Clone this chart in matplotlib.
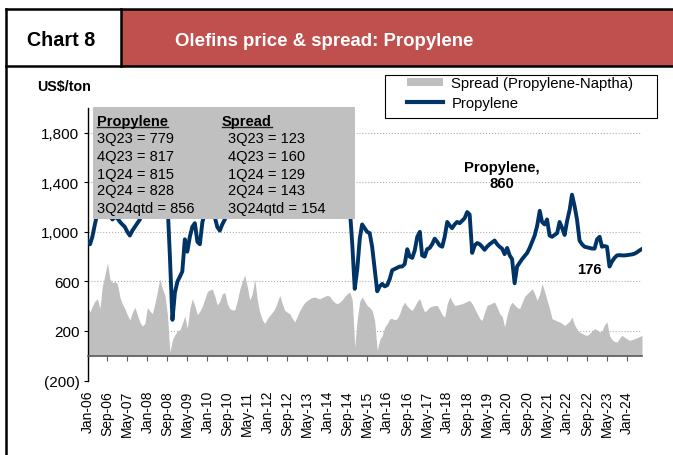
import matplotlib
matplotlib.use("Agg")
import matplotlib.pyplot as plt
import matplotlib.dates as mdates
from matplotlib.patches import Rectangle, Patch
from matplotlib.lines import Line2D
from matplotlib.ticker import FuncFormatter
from matplotlib import font_manager
import pandas as pd

# monthly values, Jan-06 .. Jul-24 (US$/ton)
propylene = [
    930, 900, 960, 1060, 1150, 1200, 1230, 1250, 1180, 1130, 1100, 1120,      # 2006
    1110, 1080, 1060, 1040, 1000, 970, 1010, 1040, 1070, 1100, 1200, 1300,    # 2007
    1400, 1450, 1500, 1560, 1620, 1680, 1700, 1600, 1250, 800, 290, 510,      # 2008
    600, 640, 680, 940, 840, 960, 1040, 1070, 920, 900, 1080, 1150,           # 2009
    1200, 1250, 1200, 1120, 1040, 1010, 1060, 1100, 1150, 1200, 1260, 1350,   # 2010
    1450, 1500, 1550, 1600, 1550, 1450, 1420, 1450, 1400, 1300, 1250, 1280,   # 2011
    1350, 1400, 1450, 1420, 1300, 1200, 1250, 1400, 1450, 1420, 1380, 1400,   # 2012
    1450, 1480, 1450, 1400, 1380, 1400, 1420, 1450, 1480, 1450, 1420, 1450,   # 2013
    1480, 1450, 1420, 1400, 1380, 1400, 1420, 1380, 1300, 1200, 900, 540,     # 2014
    700, 950, 1060, 1030, 1000, 990, 880, 700, 520, 560, 580, 560,            # 2015
    570, 620, 690, 700, 710, 720, 720, 740, 860, 800, 790, 850,               # 2016
    960, 1000, 810, 800, 860, 870, 900, 945, 920, 890, 880, 960,              # 2017
    1080, 1050, 1030, 1060, 1080, 1070, 1090, 1110, 1160, 1140, 830, 890,     # 2018
    910, 900, 880, 855, 880, 900, 915, 930, 900, 880, 864, 820,               # 2019
    870, 810, 780, 585, 720, 750, 780, 805, 830, 870, 920, 970,               # 2020
    1050, 1170, 1080, 1060, 1100, 970, 960, 975, 990, 1080, 1030, 975,        # 2021
    1090, 1180, 1300, 1210, 1100, 930, 900, 880, 875, 870, 865, 865,          # 2022
    940, 960, 880, 885, 880, 720, 760, 790, 810, 812, 810, 810,               # 2023
    812, 815, 818, 824, 835, 850, 862,                                        # 2024
]
spread = [
    396, 355, 400, 440, 460, 380, 560, 650, 750, 620, 590, 600,     # 2006
    580, 470, 420, 380, 330, 290, 350, 390, 330, 270, 240, 260,     # 2007
    390, 360, 340, 420, 520, 620, 540, 490, 330, 30, 130, 170,      # 2008
    200, 210, 260, 320, 220, 380, 460, 400, 330, 360, 400, 460,     # 2009
    520, 530, 540, 480, 410, 440, 500, 510, 420, 380, 370, 370,     # 2010
    450, 540, 600, 650, 560, 450, 500, 620, 450, 350, 290, 260,     # 2011
    300, 326, 350, 380, 430, 487, 420, 366, 350, 339, 300, 272,     # 2012
    320, 366, 400, 430, 447, 460, 470, 474, 465, 460, 470, 480,     # 2013
    487, 480, 450, 430, 420, 433, 450, 480, 500, 514, 450, 70,      # 2014
    300, 440, 474, 440, 406, 390, 366, 280, 43, 130, 164, 230,      # 2015
    260, 299, 300, 290, 299, 340, 400, 433, 400, 380, 366, 400,     # 2016
    440, 460, 400, 353, 370, 393, 400, 405, 406, 370, 330, 312,     # 2017
    420, 474, 440, 406, 410, 415, 420, 430, 440, 447, 420, 380,     # 2018
    340, 300, 285, 350, 406, 415, 425, 433, 390, 340, 320, 232,     # 2019
    330, 400, 433, 410, 390, 380, 430, 480, 500, 520, 541, 500,     # 2020
    447, 500, 582, 520, 447, 380, 299, 290, 280, 272, 260, 245,     # 2021
    260, 280, 312, 250, 215, 191, 180, 170, 164, 180, 200, 218,     # 2022
    210, 191, 200, 250, 272, 164, 130, 115, 110, 140, 164, 150,     # 2023
    135, 124, 130, 137, 145, 155, 164,                              # 2024
]
months = pd.date_range('2006-01-01', periods=len(propylene), freq='MS')

box_rows = [('3Q23', 779, 123), ('4Q23', 817, 160), ('1Q24', 815, 129),
            ('2Q24', 828, 143), ('3Q24qtd', 856, 154)]

navy = '#003366'
grey = '#BFBFBF'
red = '#C0504D'

W, H = 673, 456


def fx(x):
    return x / W


def fy(y):
    return 1 - y / H


def has_font(name):
    try:
        font_manager.findfont(font_manager.FontProperties(family=name), fallback_to_default=False)
        return True
    except ValueError:
        return False


plt.rcParams['font.family'] = 'Liberation Sans'
if has_font('Liberation Sans Narrow'):
    head_font, chart_size, title_size = 'Liberation Sans Narrow', 17, 16.3
else:
    head_font, chart_size, title_size = 'Liberation Sans', 14.2, 13.4

fig = plt.figure(figsize=(W / 100, H / 100), dpi=100)
ax = fig.add_axes([fx(87.5), fy(381.5), (642 - 87.5) / W, (381.5 - 109) / H])

ax.fill_between(months, 0, spread, color=grey, lw=0, zorder=1)
ax.plot(months, propylene, color=navy, lw=2.8, zorder=3, solid_joinstyle='round')

ax.set_xlim(months[0], months[-1])
ax.set_ylim(-200, 2000)
ax.set_yticks([-200, 200, 600, 1000, 1400, 1800])
ax.yaxis.set_major_formatter(FuncFormatter(lambda v, p: f'({abs(v):,.0f})' if v < 0 else f'{v:,.0f}'))
ax.set_xticks(months[::8])
ax.xaxis.set_major_formatter(mdates.DateFormatter('%b-%y'))
ax.tick_params(axis='x', rotation=90, labelsize=10, length=3.6, pad=21, color='#595959')
ax.tick_params(axis='y', labelsize=11, length=2.9, pad=2.9)
for s in ['top', 'right']:
    ax.spines[s].set_visible(False)
ax.spines['bottom'].set_position(('data', 0))
ax.spines['bottom'].set_color('#595959')
ax.spines['bottom'].set_linewidth(1.2)
ax.spines['left'].set_linewidth(1)
ax.grid(axis='y', linestyle=':', color='#B0B0B0', lw=0.8)
ax.set_axisbelow(True)

ax.text(months[166], 1460, 'Propylene,\n860', ha='center', va='center',
        weight='bold', size=10.7, linespacing=1.15)
ax.text(months[201], 700, '176', ha='center', va='center', weight='bold', size=10.7)

# header
fig.add_artist(Rectangle((fx(121), fy(67)), 1 - fx(121), (67 - 10) / H,
                         transform=fig.transFigure, fc=red, ec='none', zorder=1))
for xs, ys in [([6, W], [10, 10]), ([6, W], [67, 67]), ([6, 6], [10, H]), ([121, 121], [10, 67])]:
    fig.add_artist(Line2D([fx(v) for v in xs], [fy(v) for v in ys], color='black',
                          lw=1.8, transform=fig.transFigure, zorder=2))
fig.text(fx(61), fy(41), 'Chart 8', ha='center', va='center', weight='bold',
         size=chart_size, family=head_font)
fig.text(fx(324), fy(41), 'Olefins price & spread: Propylene', ha='center', va='center',
         weight='bold', size=title_size, family=head_font, color='white')
fig.text(fx(37), fy(87), 'US$/ton', ha='left', va='center', weight='bold', size=10.3)

# legend
fig.add_artist(Rectangle((fx(385), fy(119)), (657 - 385) / W, (119 - 76) / H,
                         transform=fig.transFigure, fill=False, ec='black', lw=0.8, zorder=5))
handles = [Patch(facecolor=grey, edgecolor='none'), Line2D([], [], color=navy, lw=3)]
fig.legend(handles, ['Spread (Propylene-Naptha)', 'Propylene'], loc='upper left',
           bbox_to_anchor=(fx(406.7), fy(77.5)), frameon=False, borderpad=0,
           borderaxespad=0, handlelength=2.45, handleheight=0.5, handletextpad=0.55,
           labelspacing=0.35, fontsize=10.7)

# quarterly box
fig.add_artist(Rectangle((fx(93), fy(220)), (355 - 93) / W, (220 - 108) / H,
                         transform=fig.transFigure, fc='#C0C0C0', ec='none', zorder=5))
heads = [fig.text(fx(97), fy(122), 'Propylene', weight='bold', size=10.5, va='center', zorder=6),
         fig.text(fx(221.7), fy(122), 'Spread', weight='bold', size=10.5, va='center', zorder=6)]
row_y = [139.5, 157, 174.5, 191.5, 209]
for (q, p, s), y in zip(box_rows, row_y):
    fig.text(fx(97), fy(y), f'{q} = {p}', size=10.5, va='center', zorder=6)
    fig.text(fx(228.3), fy(y), f'{q} = {s}', size=10.5, va='center', zorder=6)

fig.canvas.draw()
renderer = fig.canvas.get_renderer()
for t in heads:
    bb = t.get_window_extent(renderer)
    uy = bb.y0 + 1
    fig.add_artist(Line2D([bb.x0 / W, bb.x1 / W], [uy / H, uy / H], color='#222222',
                          lw=1, transform=fig.transFigure, zorder=6))

fig.savefig('out.png', dpi=100)
